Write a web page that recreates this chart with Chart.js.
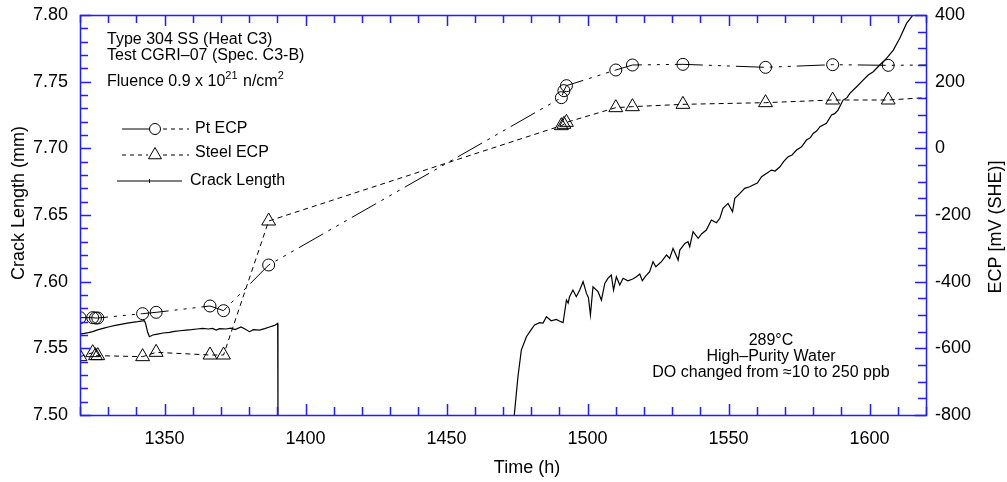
<!DOCTYPE html>
<html>
<head>
<meta charset="utf-8">
<script src="https://cdn.jsdelivr.net/npm/chart.js@4"></script>
<style>
  body { margin: 0; background: #fff; }
  canvas { display: block; }
</style>
</head>
<body>
<canvas id="chart" width="1007" height="482"></canvas>
<script>
// ---------------- DATA ----------------

const timeTicks = [1350, 1400, 1450, 1500, 1550, 1600];
const crackTicks = [7.50, 7.55, 7.60, 7.65, 7.70, 7.75, 7.80];
const ecpTicks = [-800, -600, -400, -200, 0, 200, 400];

// ECP readings (mV SHE); last entry only carries the line to the edge
const ecpTime = [1320.0, 1324.5, 1325.5, 1326.3, 1342.2, 1347.0, 1366.1, 1370.9, 1386.9,
  1490.7, 1491.6, 1492.5, 1510.0, 1515.9, 1533.8, 1563.1, 1586.9, 1606.6, 1620];
const ptEcp = [-508, -508, -509, -509, -496, -492, -473, -487, -350,
  152, 173, 188, 235, 250, 252, 243, 251, 249, 250];
const steelEcp = [-625, -613, -622, -622, -625, -612, -620, -620, -218,
  68, 72, 78, 122, 125, 132, 137, 145, 145, 152];

// crack length before the break (mm)
const crackTime1 = [1320.0, 1321.5, 1323.0, 1324.5, 1326.5, 1328.5, 1330.4, 1332.5, 1334.5,
  1336.3, 1338.5, 1340.5, 1342.8, 1343.2, 1344.0, 1344.6, 1345.8, 1347.5, 1349.5, 1351.7,
  1353.5, 1355.5, 1357.6, 1359.5, 1361.5, 1363.5, 1365.5, 1367.0, 1368.3, 1369.5, 1371.8,
  1373.5, 1375.0, 1377.1, 1378.5, 1380.1, 1381.5, 1383.6, 1385.5, 1387.2, 1389.0, 1390.1, 1390.2];
const crackLen1 = [7.5607, 7.5612, 7.5618, 7.5625, 7.5640, 7.5652, 7.5662, 7.5672, 7.5680,
  7.5687, 7.5695, 7.5700, 7.5707, 7.5690, 7.5620, 7.5587, 7.5600, 7.5607, 7.5615, 7.5620,
  7.5627, 7.5632, 7.5637, 7.5640, 7.5645, 7.5650, 7.5645, 7.5650, 7.5637, 7.5648, 7.5645,
  7.5652, 7.5640, 7.5660, 7.5645, 7.5625, 7.5640, 7.5637, 7.5648, 7.5660, 7.5672, 7.5687, 7.5000];

// crack length after restart (mm)
const crackTime2 = [1474.0, 1475.3, 1476.5, 1478.3, 1480.0, 1481.2, 1483.0, 1484.2, 1485.4,
  1487.1, 1488.9, 1490.5, 1491.3, 1492.5, 1493.1, 1493.6, 1494.8, 1496.0, 1497.2, 1498.4,
  1499.6, 1500.3, 1501.0, 1501.9, 1503.7, 1504.9, 1506.1, 1507.2, 1508.4, 1509.2, 1510.2,
  1511.4, 1512.6, 1514.3, 1516.0, 1517.3, 1518.5, 1519.4, 1520.5, 1522.0, 1523.2, 1524.2,
  1526.2, 1528.0, 1529.1, 1530.3, 1532.1, 1532.7, 1534.5, 1535.6, 1536.2, 1537.4, 1539.2,
  1540.5, 1542.1, 1543.9, 1545.7, 1546.9, 1548.0, 1549.8, 1551.4, 1552.2, 1554.0, 1555.7,
  1557.5, 1558.7, 1560.2, 1561.7, 1563.4, 1565.2, 1566.5, 1568.2, 1569.5, 1571.1, 1572.5,
  1574.1, 1575.9, 1577.6, 1579.0, 1580.0, 1581.2, 1582.4, 1584.7, 1586.5, 1587.6, 1588.8,
  1590.6, 1592.0, 1593.0, 1595.4, 1597.7, 1599.5, 1601.3, 1603.6, 1606.0, 1608.4, 1610.7,
  1613.1, 1615.4];
const crackLen2 = [7.5000, 7.5287, 7.5487, 7.5587, 7.5640, 7.5675, 7.5692, 7.5690, 7.5737,
  7.5707, 7.5717, 7.5700, 7.5692, 7.5862, 7.5840, 7.5887, 7.5937, 7.5887, 7.5937, 7.6000,
  7.5912, 7.5880, 7.5750, 7.5962, 7.5925, 7.5862, 7.5987, 7.6025, 7.6050, 7.5937, 7.6037,
  7.5975, 7.6025, 7.6007, 7.6020, 7.6037, 7.6057, 7.6007, 7.6040, 7.6075, 7.6150, 7.6112,
  7.6150, 7.6200, 7.6175, 7.6250, 7.6162, 7.6237, 7.6287, 7.6300, 7.6262, 7.6375, 7.6325,
  7.6360, 7.6387, 7.6462, 7.6442, 7.6475, 7.6550, 7.6587, 7.6525, 7.6625, 7.6662, 7.6700,
  7.6712, 7.6725, 7.6740, 7.6787, 7.6812, 7.6837, 7.6830, 7.6862, 7.6900, 7.6937, 7.6950,
  7.6987, 7.7012, 7.7062, 7.7080, 7.7112, 7.7130, 7.7162, 7.7187, 7.7250, 7.7260, 7.7287,
  7.7362, 7.7380, 7.7412, 7.7462, 7.7512, 7.7550, 7.7575, 7.7625, 7.7675, 7.7737, 7.7825,
  7.7937, 7.8000];

// ---------------- HELPERS ----------------

const FONT = '"Liberation Sans", Arial, sans-serif';
const AXIS_BLUE = "rgb(30,30,245)";

function pts(xs, ys) {
  return xs.map((x, i) => ({ x: x, y: ys[i] }));
}

function fixTicks(list) {
  return scale => { scale.ticks = list.map(v => ({ value: v })); };
}

// fixed box width; drop the label overhang so the frame sits where it should
function fixWidth(w) {
  return scale => {
    scale.width = w;
    scale.paddingTop = 0;
    scale.paddingBottom = 0;
  };
}

function drawTriangle(c, x, y, r) {
  c.beginPath();
  c.moveTo(x, y - r);
  c.lineTo(x + r * 0.866, y + r / 2);
  c.lineTo(x - r * 0.866, y + r / 2);
  c.closePath();
  c.stroke();
}

// ---------------- FRAME, TICKS, TEXT ----------------

const decor = {
  id: "decor",
  afterDraw(chart) {
    const c = chart.ctx;
    const a = chart.chartArea;
    const sx = chart.scales.x, sy = chart.scales.y, sr = chart.scales.y2;

    c.save();
    c.strokeStyle = AXIS_BLUE;
    c.lineWidth = 1.5;

    // ticks: time every 10 h, crack every 0.01 mm, ECP every 50 mV
    c.beginPath();
    for (let t = 1320; t <= 1620; t += 10) {
      const px = Math.round(sx.getPixelForValue(t)) + 0.5;
      const len = t % 50 === 0 ? 11 : 8;
      c.moveTo(px, a.bottom); c.lineTo(px, a.bottom - len);
      c.moveTo(px, a.top); c.lineTo(px, a.top + len);
    }
    for (let k = 750; k <= 780; k++) {
      const py = Math.round(sy.getPixelForValue(k / 100)) + 0.5;
      const len = k % 5 === 0 ? 11 : 8;
      c.moveTo(a.left, py); c.lineTo(a.left + len, py);
    }
    for (let v = -800; v <= 400; v += 50) {
      const py = Math.round(sr.getPixelForValue(v)) + 0.5;
      const len = v % 200 === 0 ? 11 : 8;
      c.moveTo(a.right, py); c.lineTo(a.right - len, py);
    }
    c.stroke();

    c.strokeRect(a.left + 0.5, a.top + 0.5, a.right - a.left, a.bottom - a.top);

    // axis titles
    c.fillStyle = "#000";
    c.font = "18px " + FONT;
    c.textAlign = "center";
    c.textBaseline = "middle";
    c.fillText("Time (h)", 527, 468);
    c.save();
    c.translate(19, 203);
    c.rotate(-Math.PI / 2);
    c.fillText("Crack Length (mm)", 0, 0);
    c.restore();
    c.save();
    c.translate(996, 227);
    c.rotate(-Math.PI / 2);
    c.fillText("ECP [mV (SHE)]", 0, 0);
    c.restore();

    // test info
    c.font = "16px " + FONT;
    c.textAlign = "left";
    c.fillText("Type 304 SS (Heat C3)", 107, 40);
    c.fillText("Test CGRI\u201307 (Spec. C3-B)", 107, 56);
    let x = 107;
    const parts = [["Fluence 0.9 x 10", false], ["21", true], [" n/cm", false], ["2", true]];
    parts.forEach(p => {
      c.font = (p[1] ? "11px " : "16px ") + FONT;
      c.fillText(p[0], x, p[1] ? 76 : 82);
      x += c.measureText(p[0]).width + (p[1] ? 1 : 0);
    });

    c.font = "16px " + FONT;
    c.textAlign = "center";
    c.fillText("289\u00b0C", 771, 341);
    c.fillText("High\u2013Purity Water", 771, 357);
    c.fillText("DO changed from \u224810 to 250 ppb", 771, 373);

    // legend
    c.strokeStyle = "#000";
    c.lineWidth = 1;
    c.beginPath();
    c.moveTo(122, 129); c.lineTo(149, 129);
    c.stroke();
    c.beginPath();
    c.arc(155, 129, 5.5, 0, Math.PI * 2);
    c.stroke();
    c.setLineDash([4, 4]);
    c.beginPath();
    c.moveTo(163, 129); c.lineTo(189, 129);
    c.moveTo(122, 155); c.lineTo(148, 155);
    c.moveTo(163, 155); c.lineTo(189, 155);
    c.stroke();
    c.setLineDash([]);
    drawTriangle(c, 155, 155, 7.5);
    c.beginPath();
    c.moveTo(117, 181); c.lineTo(182, 181);
    c.moveTo(149.5, 179); c.lineTo(149.5, 183);
    c.stroke();

    c.textAlign = "left";
    c.fillText("Pt ECP", 195, 129);
    c.fillText("Steel ECP", 195, 153);
    c.fillText("Crack Length", 190, 181);
    c.restore();
  }
};

// ---------------- CHART ----------------

const ctx = document.getElementById("chart").getContext("2d");

const chart = new Chart(ctx, {
  type: "line",
  data: {
    datasets: [
      {
        label: "Pt ECP",
        data: pts(ecpTime, ptEcp),
        yAxisID: "y2",
        borderColor: "#000",
        borderWidth: 1,
        borderDash: [28, 6, 3, 6, 3, 6, 3, 6],
        pointStyle: "circle",
        pointRadius: ecpTime.map(t => (t < 1620 ? 6 : 0)),
        pointBorderColor: "#000",
        pointBackgroundColor: "rgba(0,0,0,0)",
        pointBorderWidth: 1
      },
      {
        label: "Steel ECP",
        data: pts(ecpTime, steelEcp),
        yAxisID: "y2",
        borderColor: "#000",
        borderWidth: 1,
        borderDash: [5, 4],
        pointStyle: "triangle",
        pointRadius: ecpTime.map(t => (t < 1620 ? 8 : 0)),
        pointBorderColor: "#000",
        pointBackgroundColor: "rgba(0,0,0,0)",
        pointBorderWidth: 1
      },
      {
        label: "Crack Length",
        data: pts(crackTime1, crackLen1),
        yAxisID: "y",
        borderColor: "#000",
        borderWidth: 1.2,
        pointRadius: 0
      },
      {
        label: "Crack Length 2",
        data: pts(crackTime2, crackLen2),
        yAxisID: "y",
        borderColor: "#000",
        borderWidth: 1.2,
        pointRadius: 0
      }
    ]
  },
  options: {
    responsive: false,
    animation: false,
    layout: { padding: { top: 15, left: 0, right: 0, bottom: 0 } },
    plugins: { legend: { display: false }, tooltip: { enabled: false } },
    scales: {
      x: {
        type: "linear",
        min: 1320,
        max: 1620,
        grid: { display: false, drawTicks: false },
        border: { display: false },
        afterBuildTicks: fixTicks(timeTicks),
        afterFit: s => { s.height = 67; },
        ticks: {
          color: "#000",
          font: { family: FONT, size: 18 },
          padding: 13,
          maxRotation: 0,
          callback: v => String(v)
        }
      },
      y: {
        position: "left",
        min: 7.5,
        max: 7.8,
        grid: { display: false, drawTicks: false },
        border: { display: false },
        afterBuildTicks: fixTicks(crackTicks),
        afterFit: fixWidth(80),
        ticks: {
          color: "#000",
          font: { family: FONT, size: 18 },
          padding: 12,
          callback: v => v.toFixed(2)
        }
      },
      y2: {
        position: "right",
        min: -800,
        max: 400,
        grid: { display: false, drawTicks: false },
        border: { display: false },
        afterBuildTicks: fixTicks(ecpTicks),
        afterFit: fixWidth(81),
        ticks: {
          color: "#000",
          font: { family: FONT, size: 18 },
          padding: 9,
          callback: v => String(v)
        }
      }
    }
  },
  plugins: [decor]
});
</script>
</body>
</html>
